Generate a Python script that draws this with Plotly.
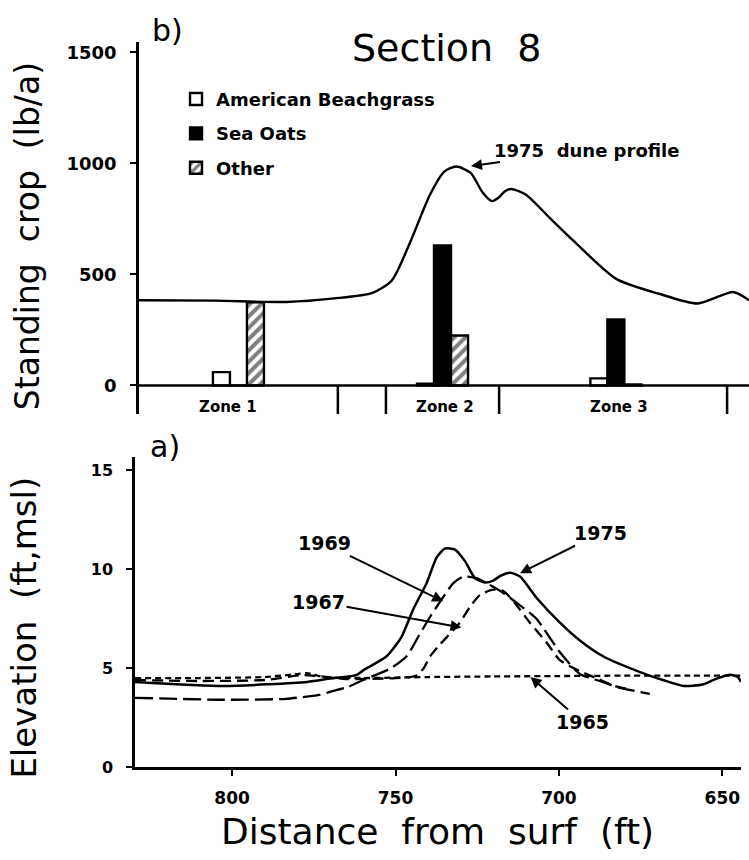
import plotly.graph_objects as go

# ---------------- data ----------------
# Top panel (b): standing crop (lb/a) by zone
zone_names = ["Zone 1", "Zone 2", "Zone 3"]
zone_centers = [798.0, 735.6, 682.6]          # distance from surf (ft)
zone_label_x = [801.2, 734.9, 681.7]
zone_bounds = [767.6, 752.9, 718.3, 648.6]
beachgrass = [60, 8, 32]
sea_oats = [0, 630, 297]
other = [375, 225, 5]

# 1975 dune profile drawn in top panel (plotted in lb/a units)
prof_x = [828.4, 805, 783.3, 768.7, 757, 751.1, 745.3, 739.4, 735, 731.4, 727,
          723.4, 720.5, 718.5, 716.5, 714.6, 710.2, 702.9, 695.6, 682.5, 669.4, 657.6,
          646.7, 641.9]
prof_y = [384, 382, 376, 392, 417, 473, 652, 860, 964, 986, 957,
          870, 830, 845, 875, 885, 860, 756, 652, 480, 413, 369, 421, 384]

# Bottom panel (a): elevation (ft, msl) profiles
x1975 = [829.7, 802.4, 777, 770, 762, 759.8, 752.7, 748.1, 744.6, 740.5, 737.4,
         734.9, 731.8, 728.7, 725.7, 722.6, 720.1, 717.9, 714.9, 711.9, 706.8,
         699.7, 693.6, 686.5, 675.2, 668.2, 662, 656, 651.8, 647.7, 645.3, 644.3]
y1975 = [4.3, 4.1, 4.3, 4.47, 4.65, 4.9, 5.6, 6.6, 7.97, 9.3, 10.6,
         11.05, 11.0, 10.4, 9.55, 9.33, 9.43, 9.67, 9.83, 9.63, 8.55,
         7.3, 6.4, 5.6, 4.8, 4.4, 4.1, 4.17, 4.47, 4.67, 4.55, 4.3]

x1969 = [829.7, 802.4, 783.5, 773.4, 770, 764.5, 759.9, 751.7, 746.6, 743, 739.4,
         735.4, 732.3, 729.3, 725.2, 721.1, 717, 712.9, 706.9, 699.7, 693.6,
         687.5, 681.3, 672.2]
y1969 = [3.5, 3.4, 3.45, 3.65, 3.8, 4.05, 4.4, 4.97, 5.6, 6.6, 7.6,
         8.6, 9.3, 9.63, 9.55, 9.2, 8.8, 8.3, 7.5, 5.8, 4.7,
         4.35, 4.0, 3.7]

x1967 = [829.7, 810, 790, 778, 765, 750, 744, 741.5, 739.4, 736.4, 730.8, 727.2,
         724.2, 720.1, 717, 713.5, 708.9, 703.8, 699.7, 693.6, 688, 683, 679]
y1967 = [4.4, 4.35, 4.4, 4.65, 4.45, 4.5, 4.6, 4.97, 5.6, 6.2, 7.2, 8.1,
         8.7, 8.97, 8.9, 8.3, 7.3, 6.3, 5.4, 4.85, 4.45, 4.1, 3.95]

x1965 = [829.7, 810, 790, 780, 777, 772, 760, 740, 720, 700, 680, 660, 644.3]
y1965 = [4.5, 4.5, 4.55, 4.7, 4.75, 4.55, 4.5, 4.55, 4.58, 4.6, 4.62, 4.62, 4.62]

top_yticks = [0, 500, 1000, 1500]
bot_yticks = [0, 5, 10, 15]
bot_xticks = [800, 750, 700, 650]

# ---------------- figure ----------------
W, H = 749, 860
TXT = "DejaVu Sans"
BOLD = dict(family=TXT, weight="bold", color="black")

fig = go.Figure()

bar_w = 5.2
fig.add_trace(go.Bar(
    x=zone_centers, y=beachgrass, width=bar_w, offset=bar_w / 2,
    name="American Beachgrass", legendgroup="a",
    marker=dict(color="white", line=dict(color="black", width=2.4)),
    xaxis="x2", yaxis="y2"))
fig.add_trace(go.Bar(
    x=zone_centers, y=sea_oats, width=bar_w, offset=-bar_w / 2,
    name="Sea Oats", legendgroup="b",
    marker=dict(color="black", line=dict(color="black", width=2.4)),
    xaxis="x2", yaxis="y2"))
fig.add_trace(go.Bar(
    x=zone_centers, y=other, width=bar_w, offset=-1.5 * bar_w,
    name="Other", legendgroup="c",
    marker=dict(color="white", line=dict(color="black", width=2.4),
                pattern=dict(shape="/", fgcolor="black", bgcolor="white",
                             size=8, solidity=0.5)),
    xaxis="x2", yaxis="y2"))

fig.add_trace(go.Scatter(
    x=prof_x, y=prof_y, mode="lines", showlegend=False,
    line=dict(color="black", width=2.4, shape="spline", smoothing=0.7),
    xaxis="x2", yaxis="y2", hoverinfo="skip"))

fig.add_trace(go.Scatter(x=x1965, y=y1965, mode="lines", showlegend=False,
                         line=dict(color="black", width=2.3, dash="6px,4px",
                                   shape="spline", smoothing=0.6)))
fig.add_trace(go.Scatter(x=x1967, y=y1967, mode="lines", showlegend=False,
                         line=dict(color="black", width=2.3, dash="11px,6px",
                                   shape="spline", smoothing=0.6)))
fig.add_trace(go.Scatter(x=x1969, y=y1969, mode="lines", showlegend=False,
                         line=dict(color="black", width=2.3, dash="18px,6px",
                                   shape="spline", smoothing=0.6)))
fig.add_trace(go.Scatter(x=x1975, y=y1975, mode="lines", showlegend=False,
                         line=dict(color="black", width=2.5,
                                   shape="spline", smoothing=0.6)))

# shapes: top baseline and zone dividers
shapes = [dict(type="line", xref="x2 domain", yref="y2", x0=0, x1=1, y0=0, y1=0,
               line=dict(color="black", width=2.5))]
for b in zone_bounds:
    shapes.append(dict(type="line", xref="x2", yref="y2", x0=b, x1=b, y0=0, y1=-130,
                       line=dict(color="black", width=2.5)))

annotations = []
for zx, zn in zip(zone_label_x, zone_names):
    annotations.append(dict(x=zx, y=-98, xref="x2", yref="y2", text=zn,
                            showarrow=False, font=dict(size=15, **BOLD)))

def arrow(x, y, xr, yr, text, ax, ay, size=19):
    return dict(x=x, y=y, xref=xr, yref=yr, text=text, showarrow=True,
                ax=ax, ay=ay, arrowhead=2, arrowsize=1.1, arrowwidth=2,
                arrowcolor="black", font=dict(size=size, **BOLD))

annotations += [
    arrow(726.9, 988, "x2", "y2", "1975  dune profile", 116, -16, 18),
    arrow(735.4, 8.38, "x", "y", "1969", -119, -58),
    arrow(729.8, 7.05, "x", "y", "1967", -143, -26),
    arrow(711.9, 9.8, "x", "y", "1975", 80, -40),
    arrow(708.7, 4.55, "x", "y", "1965", 52, 45),
]

def ptxt(px, py, text, size, angle=0):
    return dict(x=px / W, y=1 - py / H, xref="paper", yref="paper", text=text,
                showarrow=False, textangle=angle, xanchor="center", yanchor="middle",
                font=dict(family=TXT, size=size, color="black"))

annotations += [
    ptxt(447, 49, "Section  8", 38),
    ptxt(167, 31, "b)", 30),
    ptxt(165, 452, "a)", 30),
    ptxt(27, 239, "Standing  crop  (lb/a)", 33, -90),
    ptxt(24, 635, "Elevation  (ft,msl)", 34, -90),
    ptxt(437, 841, "Distance  from  surf  (ft)", 36),
]

axis_common = dict(showgrid=False, zeroline=False, showline=True,
                   linecolor="black", linewidth=2.5, ticks="outside",
                   tickcolor="black", tickwidth=2, ticklen=6)

fig.update_layout(
    width=W, height=H, margin=dict(l=0, r=0, t=0, b=0),
    paper_bgcolor="white", plot_bgcolor="white",
    barmode="overlay",
    showlegend=True,
    legend=dict(x=0.235, y=0.905, xanchor="left", yanchor="top",
                bgcolor="rgba(0,0,0,0)", tracegroupgap=8, itemwidth=30,
                font=dict(size=18, **BOLD)),
    shapes=shapes, annotations=annotations,
    xaxis=dict(domain=[135 / W, 741 / W], range=[829.7, 644.3],
               tickvals=bot_xticks, ticklabelstandoff=8,
               tickfont=dict(size=17, **BOLD), anchor="y", **axis_common),
    yaxis=dict(domain=[(H - 776) / H, (H - 462) / H], range=[0, 15.7],
               tickvals=bot_yticks, ticklabelstandoff=10,
               tickfont=dict(size=16, **BOLD), anchor="x", **axis_common),
    xaxis2=dict(domain=[139 / W, 1.0], range=[828.4, 641.9], visible=False,
                anchor="y2"),
    yaxis2=dict(domain=[(H - 419.2) / H, (H - 42) / H], range=[-130, 1549],
                tickvals=top_yticks, ticklabelstandoff=10,
                tickfont=dict(size=18, **BOLD), anchor="x2", **axis_common),
)

fig.write_html("out.html")
